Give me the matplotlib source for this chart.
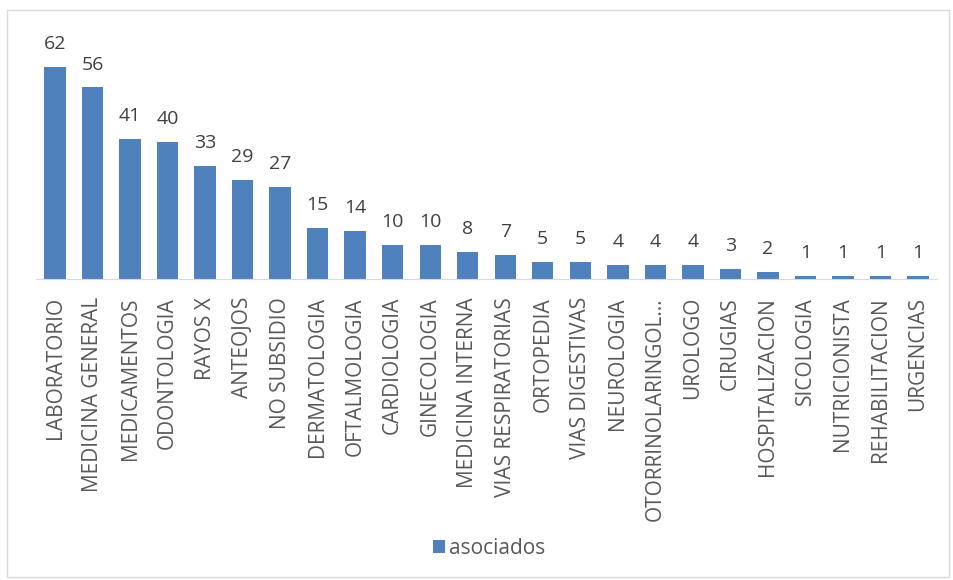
import matplotlib.pyplot as plt
from matplotlib.patches import Rectangle

categories = ['LABORATORIO', 'MEDICINA GENERAL', 'MEDICAMENTOS', 'ODONTOLOGIA',
              'RAYOS X', 'ANTEOJOS', 'NO SUBSIDIO', 'DERMATOLOGIA', 'OFTALMOLOGIA',
              'CARDIOLOGIA', 'GINECOLOGIA', 'MEDICINA INTERNA', 'VIAS RESPIRATORIAS',
              'ORTOPEDIA', 'VIAS DIGESTIVAS', 'NEUROLOGIA', 'OTORRINOLARINGOL...',
              'UROLOGO', 'CIRUGIAS', 'HOSPITALIZACION', 'SICOLOGIA', 'NUTRICIONISTA',
              'REHABILITACION', 'URGENCIAS']
asociados = [62, 56, 41, 40, 33, 29, 27, 15, 14, 10, 10, 8, 7, 5, 5, 4, 4, 4, 3, 2, 1, 1, 1, 1]

plt.rcParams['font.family'] = ['Open Sans', 'DejaVu Sans']

W, H = 954, 580
fig = plt.figure(figsize=(W / 100, H / 100), dpi=100)
fig.patches.append(Rectangle((7 / W, 3 / H), 942 / W, 567 / H, transform=fig.transFigure,
                             fill=False, edgecolor='#d9d9d9', linewidth=1))

ax = fig.add_axes([36.25 / W, 301 / H, 900.5 / W, 239.4 / H])
bars = ax.bar(range(len(categories)), asociados, width=0.57, color='#4f81bd',
              label='asociados')
ax.bar_label(bars, padding=10, fontsize=14, color='#404040')

ax.set_xlim(-0.5, len(categories) - 0.5)
ax.set_ylim(0, 70)
ax.set_xticks(range(len(categories)))
ax.set_xticklabels(categories, rotation=90, fontsize=15, color='#595959')
ax.tick_params(axis='x', length=0, pad=13)
ax.set_yticks([])
for side in ['top', 'right', 'left']:
    ax.spines[side].set_visible(False)
ax.spines['bottom'].set_color('#d9d9d9')

fig.legend(loc='center', bbox_to_anchor=(489 / W, 32 / H), frameon=False,
           fontsize=15, handlelength=0.55, handleheight=0.6, handletextpad=0.2,
           labelcolor='#595959')

fig.savefig('out.png', dpi=100)
